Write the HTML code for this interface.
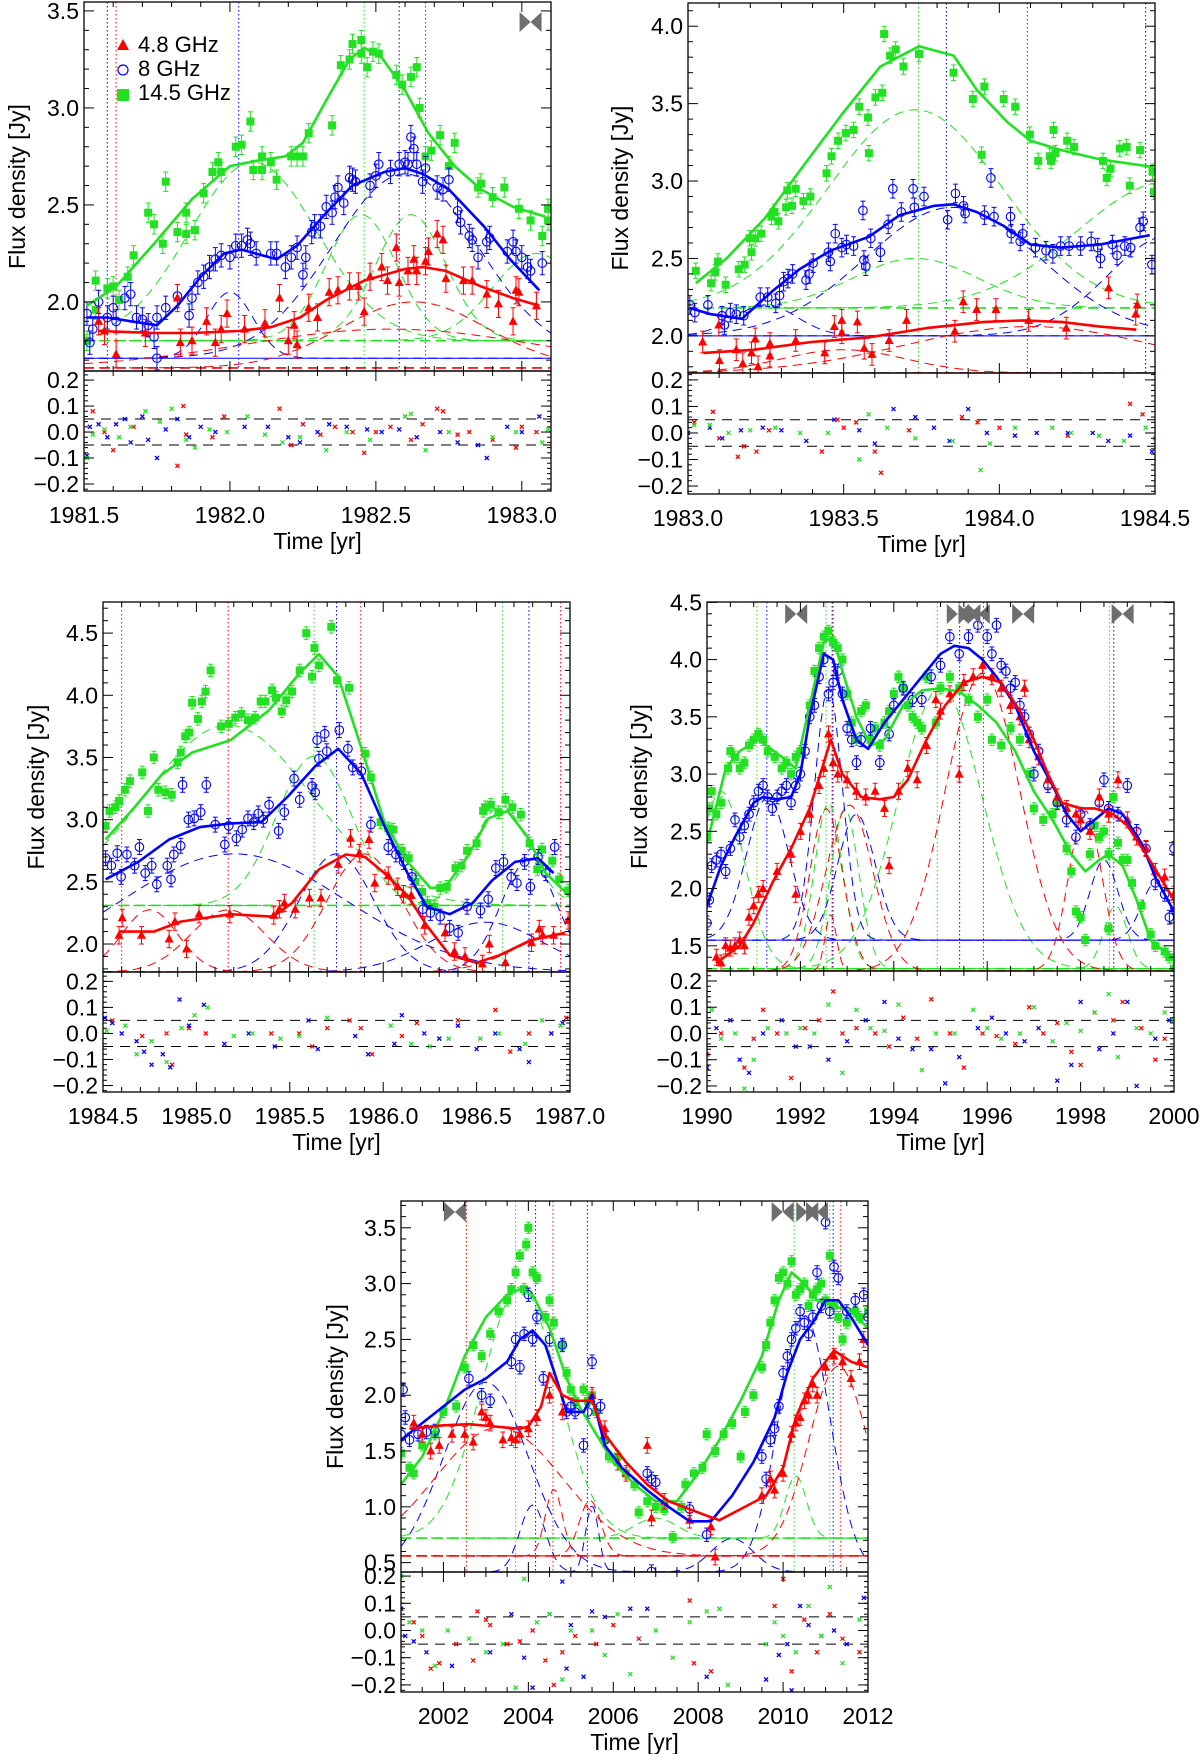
<!DOCTYPE html>
<html><head><meta charset="utf-8">
<style>
html,body{margin:0;padding:0;background:#fff;}
svg{display:block;font-family:"Liberation Sans",Arial,sans-serif;}
</style></head>
<body>
<svg id="fig" width="1200" height="1754" viewBox="0 0 1200 1754" xmlns="http://www.w3.org/2000/svg"></svg>
<script>
// ===== Panel 1 (1981.5-1983.1) =====
const P1_G=[[1981.51,1.80],[1981.54,2.11],[1981.54,1.96],[1981.58,2.07],[1981.60,2.08],[1981.62,2.01],[1981.65,2.13],[1981.67,2.24],[1981.72,2.46],[1981.74,2.40],[1981.77,2.30],[1981.78,2.62],[1981.82,2.36],[1981.85,2.35],[1981.85,2.46],[1981.88,2.37],[1981.91,2.56],[1981.94,2.67],[1981.96,2.72],[1981.97,2.67],[1982.02,2.80],[1982.04,2.81],[1982.07,2.93],[1982.08,2.68],[1982.11,2.68],[1982.11,2.75],[1982.14,2.72],[1982.16,2.63],[1982.21,2.75],[1982.23,2.75],[1982.25,2.75],[1982.27,2.87],[1982.35,2.91],[1982.38,3.22],[1982.41,3.25],[1982.42,3.33],[1982.45,3.28],[1982.45,3.35],[1982.47,3.21],[1982.49,3.29],[1982.51,3.28],[1982.57,3.17],[1982.59,3.12],[1982.62,3.16],[1982.64,3.21],[1982.65,3.00],[1982.67,2.75],[1982.69,2.78],[1982.72,2.86],[1982.75,2.70],[1982.77,2.82],[1982.85,2.59],[1982.86,2.61],[1982.90,2.54],[1982.94,2.59],[1982.99,2.48],[1983.03,2.42],[1983.07,2.34],[1983.09,2.42],[1983.09,2.48]];
const P1_B=[[1981.51,1.94],[1981.52,1.79],[1981.53,1.86],[1981.55,2.00],[1981.58,1.92],[1981.60,1.97],[1981.61,1.90],[1981.64,2.02],[1981.66,2.04],[1981.68,1.92],[1981.70,1.91],[1981.72,1.88],[1981.74,1.82],[1981.75,1.71],[1981.75,1.92],[1981.78,1.97],[1981.82,2.03],[1981.86,1.93],[1981.87,2.02],[1981.89,2.10],[1981.91,2.13],[1981.93,2.18],[1981.95,2.22],[1981.97,2.24],[1982.00,2.23],[1982.02,2.29],[1982.04,2.29],[1982.06,2.32],[1982.07,2.30],[1982.09,2.25],[1982.14,2.25],[1982.16,2.25],[1982.19,2.18],[1982.21,2.23],[1982.23,2.28],[1982.25,2.14],[1982.26,2.23],[1982.28,2.36],[1982.29,2.39],[1982.31,2.39],[1982.33,2.49],[1982.35,2.46],[1982.36,2.54],[1982.37,2.59],[1982.39,2.51],[1982.41,2.64],[1982.42,2.63],[1982.43,2.62],[1982.48,2.60],[1982.50,2.65],[1982.51,2.71],[1982.55,2.67],[1982.58,2.71],[1982.60,2.72],[1982.61,2.71],[1982.62,2.85],[1982.63,2.79],[1982.64,2.71],[1982.66,2.62],[1982.67,2.69],[1982.71,2.59],[1982.73,2.58],[1982.75,2.63],[1982.78,2.47],[1982.79,2.41],[1982.82,2.34],[1982.83,2.32],[1982.85,2.23],[1982.88,2.31],[1982.89,2.33],[1982.95,2.26],[1982.97,2.31],[1982.98,2.26],[1983.00,2.23],[1983.02,2.18],[1983.03,2.16],[1983.07,2.20]];
const P1_R=[[1981.55,1.90],[1981.57,1.85],[1981.61,1.73],[1981.71,1.84],[1981.82,2.02],[1981.83,1.79],[1981.87,1.80],[1981.92,1.90],[1981.95,1.79],[1981.97,1.86],[1981.99,1.94],[1982.05,1.86],[1982.12,1.89],[1982.17,2.02],[1982.20,1.80],[1982.22,1.88],[1982.23,1.78],[1982.27,1.97],[1982.30,1.92],[1982.34,2.05],[1982.37,2.06],[1982.41,2.08],[1982.44,2.08],[1982.46,1.95],[1982.48,2.13],[1982.52,2.18],[1982.54,2.11],[1982.57,2.28],[1982.58,2.10],[1982.61,2.16],[1982.63,2.22],[1982.64,2.16],[1982.67,2.21],[1982.68,2.26],[1982.71,2.35],[1982.73,2.32],[1982.74,2.12],[1982.80,2.11],[1982.83,2.11],[1982.88,2.04],[1982.92,1.99],[1982.97,1.90],[1982.98,2.06],[1982.99,2.05],[1983.05,1.98]];
const P1_FG=[[1981.51,1.98],[1981.61,2.08],[1981.74,2.30],[1981.87,2.53],[1982.00,2.70],[1982.10,2.73],[1982.19,2.75],[1982.25,2.82],[1982.33,3.04],[1982.41,3.25],[1982.46,3.31],[1982.52,3.26],[1982.60,3.09],[1982.68,2.87],[1982.77,2.70],[1982.86,2.58],[1982.97,2.49],[1983.08,2.44]];
const P1_FB=[[1981.51,1.92],[1981.58,1.92],[1981.66,1.90],[1981.75,1.88],[1981.82,1.98],[1981.90,2.13],[1981.98,2.25],[1982.04,2.27],[1982.16,2.22],[1982.23,2.29],[1982.33,2.46],[1982.42,2.60],[1982.53,2.67],[1982.60,2.69],[1982.66,2.66],[1982.75,2.58],[1982.87,2.39],[1982.96,2.22],[1983.06,2.06]];
const P1_FR=[[1981.55,1.85],[1981.74,1.84],[1981.87,1.84],[1982.03,1.85],[1982.14,1.87],[1982.24,1.92],[1982.33,2.01],[1982.46,2.11],[1982.60,2.17],[1982.66,2.18],[1982.74,2.16],[1982.86,2.08],[1982.97,2.02],[1983.06,1.98]];
const P1_RR=[[1981.53,.08],[1981.57,0],[1981.60,-.07],[1981.67,.02],[1981.82,-.13],[1981.84,.10],[1981.85,-.01],[1981.94,-.02],[1981.98,.06],[1982.17,.09],[1982.21,-.05],[1982.25,.03],[1982.31,-.01],[1982.36,.02],[1982.42,0],[1982.46,-.08],[1982.50,0],[1982.55,.02],[1982.60,.06],[1982.62,-.03],[1982.66,.03],[1982.71,.09],[1982.73,.08],[1982.78,-.01],[1982.82,0],[1982.90,-.03],[1982.98,-.06],[1983.00,.02],[1983.05,0]];
const P1_RB=[[1981.51,-.09],[1981.52,.02],[1981.55,.03],[1981.58,-.02],[1981.61,.03],[1981.64,.05],[1981.66,-.04],[1981.70,.06],[1981.72,-.03],[1981.75,-.10],[1981.78,.01],[1981.82,.05],[1981.86,-.02],[1981.90,.02],[1981.95,0],[1982.05,.02],[1982.13,.02],[1982.20,-.02],[1982.24,-.04],[1982.30,0],[1982.34,.03],[1982.40,.02],[1982.47,.01],[1982.52,0],[1982.58,.01],[1982.64,-.02],[1982.72,0],[1982.78,-.04],[1982.85,-.05],[1982.88,-.10],[1982.95,.02],[1983.00,0],[1983.06,.06]];
const P1_RG=[[1981.51,-.10],[1981.53,-.01],[1981.57,.01],[1981.62,-.02],[1981.66,.02],[1981.71,.08],[1981.76,.04],[1981.80,.09],[1981.85,-.03],[1981.88,-.06],[1981.93,.01],[1981.99,0],[1982.06,.06],[1982.12,-.01],[1982.18,-.04],[1982.24,-.02],[1982.33,-.07],[1982.40,0],[1982.48,-.03],[1982.60,.06],[1982.62,.07],[1982.67,-.07],[1982.75,0],[1982.90,-.02],[1982.98,0],[1983.07,-.04],[1983.09,.01]];
const P1_CG_T=[1982.08,1982.45,1982.62,1983.05], P1_CG_A=[0.92,0.65,0.65,0.45], P1_CG_W=[0.22,0.12,0.12,0.15], P1_BASE_G=1.80;
const P1_CB_T=[1982.0,1982.6], P1_CB_A=[0.34,0.95], P1_CB_W=[0.08,0.25], P1_BASE_B=1.71;
const P1_CR_T=[1982.63,1982.55], P1_CR_A=[0.34,0.2], P1_CR_W=[0.25,0.5], P1_BASE_R=1.66;
const P1_VL_T=[1981.58,1981.61,1982.03,1982.46,1982.58,1982.67], P1_VL_C=['b','r','b','g','b','r'];
const P1_BOW=[1983.03];

// ===== Panel 2 (1983.0-1984.5) =====
const P2_G=[[1983.025,2.42],[1983.074,2.34],[1983.087,2.41],[1983.096,2.48],[1983.121,2.33],[1983.163,2.43],[1983.182,2.46],[1983.198,2.63],[1983.204,2.54],[1983.216,2.63],[1983.235,2.66],[1983.268,2.77],[1983.278,2.80],[1983.290,2.74],[1983.315,2.83],[1983.319,2.94],[1983.334,2.84],[1983.346,2.95],[1983.371,2.87],[1983.393,2.90],[1983.445,3.05],[1983.461,3.16],[1983.482,3.26],[1983.507,3.31],[1983.532,3.33],[1983.550,3.48],[1983.581,3.18],[1983.578,3.41],[1983.602,3.54],[1983.624,3.57],[1983.630,3.95],[1983.649,3.81],[1983.667,3.85],[1983.692,3.74],[1983.742,3.82],[1983.853,3.70],[1983.915,3.53],[1983.943,3.17],[1983.952,3.61],[1984.014,3.53],[1984.051,3.48],[1984.098,3.30],[1984.125,3.13],[1984.162,3.16],[1984.166,3.13],[1984.174,3.33],[1984.180,3.18],[1984.218,3.26],[1984.240,3.22],[1984.333,3.13],[1984.345,3.02],[1984.357,3.08],[1984.387,3.21],[1984.409,3.22],[1984.419,2.97],[1984.452,3.20],[1984.492,3.06],[1984.496,2.93]];
const P2_B=[[1983.006,2.20],[1983.022,2.15],[1983.064,2.20],[1983.109,2.13],[1983.117,2.07],[1983.136,2.15],[1983.155,2.14],[1983.179,2.13],[1983.232,2.25],[1983.256,2.25],[1983.282,2.21],[1983.294,2.26],[1983.307,2.35],[1983.321,2.37],[1983.336,2.40],[1983.379,2.36],[1983.389,2.40],[1983.402,2.47],[1983.451,2.54],[1983.457,2.48],[1983.473,2.66],[1983.494,2.57],[1983.509,2.59],[1983.532,2.58],[1983.562,2.81],[1983.565,2.49],[1983.571,2.45],[1983.587,2.63],[1983.618,2.54],[1983.643,2.72],[1983.658,2.95],[1983.685,2.80],[1983.723,2.95],[1983.727,2.83],[1983.758,2.90],[1983.834,2.75],[1983.859,2.92],[1983.885,2.84],[1983.890,2.79],[1983.952,2.78],[1983.973,3.02],[1983.983,2.77],[1984.036,2.77],[1984.038,2.66],[1984.067,2.61],[1984.075,2.66],[1984.116,2.57],[1984.150,2.55],[1984.172,2.53],[1984.197,2.58],[1984.224,2.58],[1984.261,2.58],[1984.295,2.61],[1984.316,2.57],[1984.325,2.50],[1984.363,2.59],[1984.378,2.52],[1984.403,2.58],[1984.422,2.57],[1984.452,2.70],[1984.462,2.74],[1984.490,2.46]];
const P2_R=[[1983.047,1.96],[1983.099,2.07],[1983.101,1.84],[1983.155,1.91],[1983.176,1.82],[1983.204,1.89],[1983.216,1.98],[1983.225,1.80],[1983.263,1.95],[1983.263,1.87],[1983.346,1.97],[1983.439,1.89],[1983.470,2.06],[1983.494,2.10],[1983.494,2.02],[1983.544,2.09],[1983.566,1.92],[1983.591,1.88],[1983.646,1.97],[1983.702,2.10],[1983.857,2.03],[1983.884,2.22],[1983.927,2.17],[1983.989,2.17],[1984.094,2.10],[1984.215,2.05],[1984.351,2.31],[1984.438,2.14],[1984.443,2.20]];
const P2_FG=[[1983.025,2.34],[1983.124,2.50],[1983.247,2.76],[1983.371,3.10],[1983.494,3.43],[1983.618,3.74],[1983.742,3.87],[1983.853,3.81],[1983.927,3.59],[1984.026,3.38],[1984.100,3.26],[1984.199,3.20],[1984.323,3.14],[1984.496,3.09]];
const P2_FB=[[1983.006,2.18],[1983.074,2.14],[1983.173,2.11],[1983.272,2.29],[1983.358,2.43],[1983.457,2.55],[1983.581,2.64],[1983.680,2.78],[1983.791,2.84],[1983.853,2.85],[1983.927,2.80],[1984.014,2.71],[1984.100,2.59],[1984.199,2.57],[1984.323,2.59],[1984.483,2.65]];
const P2_FR=[[1983.049,1.89],[1983.210,1.91],[1983.396,1.96],[1983.581,1.99],[1983.766,2.05],[1983.952,2.09],[1984.075,2.10],[1984.199,2.09],[1984.323,2.06],[1984.440,2.04]];
const P2_RR=[[1983.02,.04],[1983.08,.08],[1983.10,-.02],[1983.16,-.09],[1983.18,-.05],[1983.22,-.07],[1983.26,.01],[1983.43,-.07],[1983.48,.05],[1983.50,.02],[1983.54,.04],[1983.60,-.07],[1983.62,-.15],[1983.71,.01],[1983.88,.06],[1983.93,.04],[1984.00,.02],[1984.22,-.01],[1984.42,.11],[1984.46,.07]];
const P2_RB=[[1983.00,0],[1983.07,.02],[1983.11,-.02],[1983.17,.01],[1983.24,.02],[1983.30,.01],[1983.38,-.03],[1983.47,.05],[1983.55,.01],[1983.60,-.04],[1983.66,.09],[1983.73,.06],[1983.79,.02],[1983.84,-.03],[1983.90,.09],[1983.96,0],[1984.05,-.01],[1984.12,0],[1984.22,0],[1984.30,0],[1984.35,-.03],[1984.42,-.01],[1984.49,-.07]];
const P2_RG=[[1983.02,.03],[1983.07,.03],[1983.13,0],[1983.20,.01],[1983.28,.02],[1983.36,0],[1983.45,0],[1983.55,-.10],[1983.58,.07],[1983.64,.02],[1983.73,-.02],[1983.85,-.03],[1983.94,-.14],[1983.97,-.04],[1984.05,.02],[1984.17,.02],[1984.23,0],[1984.32,-.01],[1984.40,-.03],[1984.47,.02],[1984.50,-.02]];
const P2_CG_T=[1983.73,1983.73,1984.55], P2_CG_A=[1.28,0.32,0.82], P2_CG_W=[0.28,0.2,0.3], P2_BASE_G=2.18;
const P2_CB_T=[1983.25,1983.85,1984.55], P2_CB_A=[0.2,0.83,0.65], P2_CB_W=[0.1,0.28,0.2], P2_BASE_B=2.0;
const P2_CR_T=[1984.1,1983.5], P2_CR_A=[0.3,0.15], P2_CR_W=[0.4,0.2], P2_BASE_R=1.76;
const P2_VL_T=[1983.74,1983.83,1984.09,1984.47], P2_VL_C=['g','b','r','b'];
const P2_BOW=[];

// ===== Panel 3 (1984.5-1987.0) =====
const P3_G=[[1984.514,2.95],[1984.535,3.07],[1984.566,3.10],[1984.586,3.15],[1984.617,3.24],[1984.644,3.31],[1984.710,3.38],[1984.741,3.07],[1984.772,3.50],[1984.796,3.24],[1984.833,3.22],[1984.868,3.20],[1984.899,3.46],[1984.916,3.54],[1984.940,3.67],[1984.961,3.70],[1984.977,3.94],[1985.008,3.81],[1985.029,3.95],[1985.049,4.03],[1985.076,4.20],[1985.132,3.75],[1985.173,3.77],[1985.208,3.82],[1985.241,3.85],[1985.276,3.80],[1985.313,3.82],[1985.344,3.95],[1985.368,3.95],[1985.405,4.04],[1985.426,3.98],[1985.457,3.87],[1985.481,3.96],[1985.512,4.03],[1985.553,4.20],[1985.588,4.50],[1985.619,4.15],[1985.632,4.38],[1985.656,4.24],[1985.722,4.55],[1985.753,4.12],[1985.817,4.06],[1985.903,3.53],[1985.934,3.34],[1985.986,2.98],[1986.027,2.93],[1986.053,2.92],[1986.099,2.75],[1986.136,2.69],[1986.171,2.50],[1986.208,2.42],[1986.237,2.33],[1986.274,2.30],[1986.305,2.45],[1986.340,2.46],[1986.387,2.61],[1986.418,2.63],[1986.449,2.75],[1986.500,2.81],[1986.535,3.07],[1986.547,3.10],[1986.576,3.12],[1986.617,3.06],[1986.654,3.16],[1986.691,3.10],[1986.737,3.04],[1986.784,2.81],[1986.825,2.60],[1986.850,2.76],[1986.905,2.67],[1986.942,2.52],[1986.990,2.43]];
const P3_B=[[1984.514,2.69],[1984.545,2.63],[1984.576,2.73],[1984.597,2.54],[1984.628,2.72],[1984.669,2.63],[1984.695,2.78],[1984.726,2.57],[1984.761,2.63],[1984.788,2.48],[1984.844,2.63],[1984.864,2.52],[1984.879,2.72],[1984.916,2.79],[1984.926,3.28],[1984.957,3.00],[1984.988,3.01],[1985.023,3.06],[1985.053,3.28],[1985.101,2.96],[1985.152,2.80],[1985.173,2.95],[1985.214,2.85],[1985.245,2.92],[1985.276,3.01],[1985.307,2.98],[1985.331,3.05],[1985.358,3.00],[1985.389,3.12],[1985.440,2.91],[1985.471,3.06],[1985.523,3.33],[1985.553,3.16],[1985.619,3.27],[1985.636,3.22],[1985.646,3.64],[1985.656,3.49],[1985.687,3.69],[1985.698,3.55],[1985.765,3.72],[1985.811,3.57],[1985.837,3.42],[1985.883,3.39],[1985.934,2.96],[1986.027,2.78],[1986.068,2.72],[1986.109,2.66],[1986.154,2.54],[1986.212,2.28],[1986.253,2.25],[1986.305,2.22],[1986.356,2.13],[1986.401,2.09],[1986.449,2.30],[1986.521,2.27],[1986.562,2.36],[1986.603,2.61],[1986.644,2.66],[1986.685,2.54],[1986.716,2.49],[1986.757,2.66],[1986.788,2.46],[1986.829,2.70],[1986.870,2.57],[1986.918,2.78]];
const P3_R=[[1984.586,2.07],[1984.603,2.21],[1984.706,2.07],[1984.854,2.04],[1984.885,2.18],[1984.947,1.96],[1985.014,2.24],[1985.179,2.24],[1985.414,2.23],[1985.444,2.28],[1985.471,2.33],[1985.529,2.28],[1985.605,2.37],[1985.667,2.37],[1985.759,2.64],[1985.825,2.85],[1985.872,2.73],[1985.924,2.84],[1985.955,2.49],[1986.027,2.55],[1986.078,2.46],[1986.109,2.40],[1986.150,2.39],[1986.222,2.15],[1986.331,2.09],[1986.381,1.94],[1986.438,1.90],[1986.531,1.84],[1986.568,2.00],[1986.654,1.85],[1986.794,2.01],[1986.835,2.12],[1986.854,2.07],[1986.912,2.07],[1986.990,2.19]];
const P3_FG=[[1984.514,2.84],[1984.669,3.10],[1984.813,3.36],[1984.977,3.54],[1985.183,3.64],[1985.389,3.88],[1985.553,4.18],[1985.656,4.33],[1985.759,4.15],[1985.883,3.58],[1986.006,2.98],[1986.130,2.66],[1986.253,2.45],[1986.335,2.46],[1986.459,2.72],[1986.562,3.01],[1986.665,3.07],[1986.768,2.87],[1986.870,2.57],[1986.994,2.39]];
const P3_FB=[[1984.514,2.52],[1984.689,2.66],[1984.854,2.84],[1985.019,2.94],[1985.183,2.97],[1985.348,2.98],[1985.492,3.19],[1985.636,3.43],[1985.759,3.57],[1985.883,3.37],[1986.006,2.95],[1986.130,2.57],[1986.233,2.30],[1986.356,2.24],[1986.479,2.33],[1986.582,2.51],[1986.706,2.66],[1986.829,2.69],[1986.912,2.57]];
const P3_FR=[[1984.586,2.10],[1984.772,2.10],[1984.916,2.18],[1985.183,2.24],[1985.409,2.22],[1985.512,2.33],[1985.656,2.60],[1985.800,2.72],[1985.903,2.70],[1986.006,2.57],[1986.130,2.39],[1986.233,2.15],[1986.356,1.91],[1986.500,1.85],[1986.623,1.91],[1986.788,2.03],[1986.973,2.09]];
const P3_RR=[[1984.55,.05],[1984.71,-.01],[1984.84,0],[1984.87,-.12],[1984.96,.02],[1985.05,0],[1985.40,0],[1985.55,0],[1985.62,-.05],[1985.70,.02],[1985.82,.05],[1985.88,.02],[1985.94,-.08],[1986.10,-.01],[1986.18,.04],[1986.40,.05],[1986.60,.09],[1986.68,-.07],[1986.78,0],[1986.90,0],[1986.98,.06]];
const P3_RB=[[1984.51,.06],[1984.55,.04],[1984.60,0],[1984.68,-.03],[1984.72,-.07],[1984.76,-.12],[1984.82,-.08],[1984.86,-.13],[1984.91,.13],[1984.96,.03],[1985.04,.11],[1985.15,-.04],[1985.28,0],[1985.42,-.05],[1985.60,.05],[1985.65,-.06],[1985.85,-.01],[1985.92,-.08],[1986.06,-.04],[1986.10,.07],[1986.22,0],[1986.30,-.02],[1986.40,.03],[1986.50,-.06],[1986.60,0],[1986.73,-.06],[1986.78,-.11],[1986.90,0],[1986.96,.04]];
const P3_RG=[[1984.52,.01],[1984.62,.03],[1984.68,-.08],[1984.76,-.03],[1984.84,-.11],[1984.92,.02],[1984.99,.07],[1985.06,.10],[1985.20,-.01],[1985.30,0],[1985.45,-.02],[1985.55,-.01],[1985.70,.06],[1986.04,.03],[1986.15,-.04],[1986.25,-.05],[1986.35,-.02],[1986.52,-.02],[1986.62,0],[1986.76,-.04],[1986.85,.05],[1986.95,.03]];
const P3_CG_T=[1985.17,1985.63,1986.63], P3_CG_A=[1.45,1.2,0.8], P3_CG_W=[0.45,0.2,0.15], P3_BASE_G=2.31;
const P3_CB_T=[1985.2,1985.75,1986.55,1986.78], P3_CB_A=[0.95,0.95,0.4,0.9], P3_CB_W=[0.6,0.2,0.3,0.15], P3_BASE_B=1.775;
const P3_CR_T=[1984.75,1985.17,1985.9,1986.95], P3_CR_A=[0.5,0.5,0.95,0.3], P3_CR_W=[0.15,0.2,0.2,0.25], P3_BASE_R=1.775;
const P3_VL_T=[1984.60,1985.17,1985.63,1985.75,1985.88,1986.64,1986.78,1986.95], P3_VL_C=['r','r','g','b','r','g','b','r'];
const P3_BOW=[];

// ===== Panel 4 (1990-2000) =====
const P4_G=[[1990.0,2.45],[1990.05,2.7],[1990.1,2.85],[1990.2,2.65],[1990.3,2.75],[1990.45,3.05],[1990.5,3.2],[1990.6,3.15],[1990.7,3.05],[1990.8,3.1],[1990.9,3.25],[1991.0,3.3],[1991.1,3.35],[1991.2,3.3],[1991.3,3.2],[1991.45,3.15],[1991.6,3.05],[1991.7,3.1],[1991.8,3.0],[1991.9,3.15],[1992.0,3.2],[1992.2,3.6],[1992.3,3.9],[1992.4,4.1],[1992.5,4.2],[1992.6,4.25],[1992.7,4.15],[1992.8,4.1],[1992.9,4.0],[1993.0,3.7],[1993.1,3.45],[1993.2,3.3],[1993.3,3.55],[1993.4,3.6],[1993.5,3.3],[1993.6,3.4],[1993.7,3.25],[1993.8,3.45],[1993.9,3.55],[1994.0,3.7],[1994.1,3.85],[1994.2,3.75],[1994.3,3.6],[1994.4,3.5],[1994.5,3.45],[1994.6,3.4],[1994.7,3.85],[1994.9,3.45],[1995.0,3.75],[1995.2,3.85],[1995.4,3.75],[1995.6,3.65],[1995.8,3.5],[1996.0,3.65],[1996.1,3.3],[1996.3,3.25],[1996.5,3.4],[1996.7,3.3],[1996.9,3.0],[1997.0,2.7],[1997.2,2.6],[1997.4,2.65],[1997.5,2.75],[1997.7,2.35],[1997.8,2.15],[1997.9,1.8],[1998.0,1.75],[1998.1,1.55],[1998.2,2.3],[1998.3,2.55],[1998.4,2.45],[1998.5,2.5],[1998.6,2.3],[1998.6,1.65],[1998.7,2.8],[1998.8,2.4],[1998.9,2.25],[1999.0,2.25],[1999.1,2.05],[1999.3,1.85],[1999.5,1.6],[1999.6,1.5],[1999.8,1.45],[1999.9,1.4],[2000.0,1.3]];
const P4_B=[[1990.0,1.7],[1990.05,1.9],[1990.1,2.2],[1990.2,2.25],[1990.3,2.3],[1990.4,2.15],[1990.5,2.35],[1990.6,2.6],[1990.7,2.45],[1990.8,2.55],[1990.9,2.65],[1991.0,2.75],[1991.1,2.85],[1991.2,2.9],[1991.3,2.8],[1991.4,2.7],[1991.5,2.8],[1991.6,2.85],[1991.7,2.9],[1991.8,2.75],[1991.9,2.9],[1992.0,3.0],[1992.1,3.2],[1992.2,3.5],[1992.3,3.6],[1992.4,3.85],[1992.5,4.0],[1992.6,3.7],[1992.7,3.8],[1992.8,3.9],[1992.9,3.7],[1993.0,3.4],[1993.1,3.3],[1993.2,3.1],[1993.3,3.3],[1993.5,3.4],[1993.7,3.1],[1993.9,3.35],[1994.0,3.6],[1994.2,3.75],[1994.4,3.65],[1994.6,3.65],[1994.8,3.85],[1995.0,3.95],[1995.2,4.2],[1995.4,4.05],[1995.6,4.2],[1995.8,4.3],[1996.0,4.2],[1996.1,4.05],[1996.2,4.3],[1996.3,3.95],[1996.4,3.9],[1996.5,3.75],[1996.6,3.8],[1996.7,3.6],[1996.8,3.5],[1996.9,3.35],[1997.0,3.0],[1997.1,3.2],[1997.3,2.9],[1997.5,2.75],[1997.7,2.6],[1997.9,2.45],[1998.0,2.65],[1998.2,2.55],[1998.4,2.75],[1998.5,2.95],[1998.6,2.7],[1998.8,2.65],[1999.0,2.9],[1999.2,2.5],[1999.4,2.35],[1999.6,2.05],[1999.8,1.95],[1999.9,1.75],[2000.0,2.35]];
const P4_R=[[1990.2,1.4],[1990.3,1.35],[1990.4,1.5],[1990.5,1.48],[1990.6,1.5],[1990.7,1.55],[1990.8,1.5],[1990.9,1.75],[1991.0,1.85],[1991.1,1.95],[1991.2,2.0],[1991.5,2.15],[1991.8,2.3],[1991.9,1.95],[1992.0,2.5],[1992.2,2.65],[1992.4,2.9],[1992.5,3.05],[1992.6,3.35],[1992.7,3.1],[1992.8,3.0],[1993.0,2.95],[1993.2,2.85],[1993.4,2.8],[1993.6,2.85],[1993.8,2.7],[1993.9,2.2],[1994.1,2.85],[1994.3,3.05],[1994.5,2.95],[1994.7,3.25],[1994.9,3.65],[1995.0,3.55],[1995.2,3.7],[1995.4,3.0],[1995.5,3.8],[1995.7,3.85],[1995.9,3.95],[1996.1,3.85],[1996.3,3.75],[1996.5,3.6],[1996.7,3.5],[1996.8,3.75],[1996.9,3.3],[1997.1,3.15],[1997.3,2.95],[1997.5,2.8],[1997.7,2.7],[1997.9,2.65],[1998.0,2.6],[1998.2,2.5],[1998.4,2.8],[1998.6,2.65],[1998.8,2.95],[1999.0,2.6],[1999.2,2.45],[1999.4,2.35],[1999.6,2.15],[1999.8,2.1],[2000.0,1.95]];
const P4_FG=[[1990.0,2.4],[1990.4,3.05],[1990.7,3.2],[1991.1,3.3],[1991.6,3.15],[1991.9,3.05],[1992.2,3.6],[1992.5,4.15],[1992.7,4.2],[1992.9,3.9],[1993.2,3.5],[1993.5,3.25],[1993.8,3.3],[1994.2,3.6],[1994.6,3.73],[1995.0,3.75],[1995.4,3.72],[1995.8,3.6],[1996.2,3.45],[1996.6,3.2],[1997.0,2.85],[1997.4,2.6],[1997.8,2.3],[1998.1,2.15],[1998.4,2.25],[1998.6,2.3],[1998.9,2.2],[1999.2,1.9],[1999.5,1.55],[1999.8,1.45],[2000.0,1.4]];
const P4_FB=[[1990.0,1.85],[1990.3,2.2],[1990.6,2.45],[1991.0,2.75],[1991.2,2.8],[1991.5,2.78],[1991.8,2.8],[1992.0,3.0],[1992.2,3.5],[1992.5,4.05],[1992.7,4.0],[1992.9,3.65],[1993.2,3.3],[1993.45,3.22],[1993.8,3.45],[1994.2,3.65],[1994.6,3.85],[1995.0,4.05],[1995.3,4.12],[1995.6,4.1],[1995.9,4.0],[1996.2,3.85],[1996.6,3.6],[1997.0,3.2],[1997.4,2.9],[1997.7,2.65],[1998.0,2.5],[1998.3,2.6],[1998.6,2.7],[1998.9,2.65],[1999.3,2.4],[1999.6,2.1],[2000.0,1.8]];
const P4_FR=[[1990.2,1.35],[1990.7,1.5],[1991.0,1.7],[1991.4,2.05],[1991.8,2.35],[1992.2,2.7],[1992.5,3.1],[1992.65,3.3],[1992.9,3.0],[1993.3,2.8],[1993.7,2.78],[1994.0,2.8],[1994.3,2.95],[1994.7,3.3],[1995.1,3.6],[1995.5,3.8],[1995.9,3.85],[1996.3,3.8],[1996.7,3.55],[1997.0,3.3],[1997.3,3.0],[1997.6,2.75],[1998.0,2.7],[1998.3,2.7],[1998.7,2.65],[1999.0,2.55],[1999.4,2.3],[1999.7,2.1],[2000.0,1.9]];
const P4_RR=[[1990.0,-.08],[1990.3,0],[1990.5,.05],[1990.8,-.13],[1991.0,-.02],[1991.2,.09],[1991.5,0],[1991.8,-.17],[1992.1,.02],[1992.4,.05],[1992.7,.16],[1992.9,0],[1993.2,.02],[1993.6,0],[1993.9,-.05],[1994.2,.06],[1994.5,-.02],[1994.8,.13],[1995.2,0],[1995.5,-.13],[1995.9,0],[1996.2,-.01],[1996.6,-.04],[1996.9,.1],[1997.2,0],[1997.5,.04],[1997.8,-.07],[1998.0,-.12],[1998.3,.08],[1998.7,.05],[1998.9,.12],[1999.3,.02],[1999.6,-.1],[1999.8,-.02],[2000.0,-.23]];
const P4_RB=[[1990.0,-.13],[1990.2,.02],[1990.5,.05],[1990.7,-.1],[1990.9,-.15],[1991.2,0],[1991.6,.05],[1991.9,-.05],[1992.2,-.05],[1992.6,-.1],[1993.0,-.03],[1993.4,.05],[1993.8,.12],[1994.1,-.02],[1994.4,-.06],[1994.8,-.06],[1995.1,-.19],[1995.4,-.09],[1995.8,.02],[1996.1,.06],[1996.4,0],[1996.8,-.03],[1997.1,.02],[1997.5,-.18],[1997.8,-.12],[1998.0,.12],[1998.4,-.06],[1998.7,0],[1999.0,.12],[1999.2,-.2],[1999.6,-.02],[1999.9,.05]];
const P4_RG=[[1990.1,.09],[1990.3,-.02],[1990.6,0],[1990.8,-.21],[1991.0,-.1],[1991.3,.02],[1991.7,0],[1992.0,.02],[1992.3,0],[1992.6,.11],[1992.9,-.15],[1993.2,.09],[1993.5,.02],[1993.8,.01],[1994.1,.11],[1994.6,-.14],[1994.9,0],[1995.3,0],[1995.7,.09],[1996.0,.02],[1996.3,-.02],[1996.7,0],[1997.0,.1],[1997.4,-.03],[1997.7,.04],[1998.0,.01],[1998.3,.08],[1998.6,.15],[1998.8,-.09],[1999.2,.02],[1999.5,0],[1999.8,.08],[2000.0,.05]];
const P4_CG_T=[1990.3,1992.6,1992.95,1995.0,1998.75], P4_CG_A=[1.55,1.45,1.4,2.45,0.55], P4_CG_W=[0.5,0.3,0.3,0.9,0.25], P4_BASE_G=1.30;
const P4_CB_T=[1991.3,1992.6,1993.2,1998.5,1999.6], P4_CB_A=[1.25,2.2,1.1,0.7,0.5], P4_CB_W=[0.45,0.3,0.4,0.3,0.3], P4_BASE_B=1.55;
const P4_CR_T=[1992.65,1992.55,1993.05,1995.9,1998.1], P4_CR_A=[0.5,1.42,1.45,2.6,1.4], P4_CR_W=[0.12,0.35,0.5,0.8,0.35], P4_BASE_R=1.28;
const P4_VL_T=[1991.07,1991.28,1992.55,1992.68,1992.70,1994.93,1995.41,1995.92,1998.62,1998.71], P4_VL_C=['g','b','g','b','r','g','b','r','g','b'];
const P4_BOW=[1991.91,1995.37,1995.62,1995.82,1996.77,1998.9];

// ===== Panel 5 (2001-2012) =====
const P5_G=[[2001.0,1.48],[2001.2,1.35],[2001.3,1.3],[2001.5,1.55],[2001.8,1.65],[2002.0,1.85],[2002.3,1.9],[2002.5,2.25],[2002.7,2.45],[2002.9,2.35],[2003.1,2.55],[2003.3,2.75],[2003.5,2.85],[2003.6,2.95],[2003.7,3.1],[2003.8,3.25],[2003.9,2.95],[2003.95,3.35],[2004.0,3.5],[2004.1,3.1],[2004.2,3.05],[2004.4,2.7],[2004.5,2.85],[2004.6,2.65],[2004.8,2.45],[2004.9,2.2],[2005.0,2.05],[2005.1,1.95],[2005.3,2.05],[2005.4,1.95],[2005.5,2.0],[2005.6,1.85],[2005.8,1.6],[2005.9,1.45],[2006.1,1.45],[2006.3,1.3],[2006.5,1.2],[2006.6,0.95],[2006.8,1.05],[2007.0,1.0],[2007.2,0.98],[2007.4,0.73],[2007.6,1.0],[2007.7,1.2],[2007.9,1.3],[2008.1,1.35],[2008.2,1.65],[2008.4,1.5],[2008.6,1.65],[2008.8,1.75],[2009.0,1.45],[2009.1,1.85],[2009.3,2.0],[2009.5,2.25],[2009.6,2.45],[2009.7,2.65],[2009.8,2.85],[2009.9,3.05],[2010.0,3.1],[2010.1,3.0],[2010.2,3.2],[2010.3,2.9],[2010.4,2.95],[2010.5,3.0],[2010.6,2.8],[2010.7,2.9],[2010.8,2.95],[2010.9,3.0],[2011.0,2.85],[2011.1,3.25],[2011.2,2.8],[2011.3,2.7],[2011.4,2.5],[2011.5,2.65],[2011.7,2.75],[2011.8,2.7],[2012.0,2.75]];
const P5_B=[[2001.0,1.65],[2001.05,2.05],[2001.1,1.8],[2001.2,1.6],[2001.4,1.65],[2001.6,1.67],[2001.8,1.68],[2002.6,2.15],[2002.9,2.0],[2003.1,1.95],[2003.6,2.3],[2003.7,2.5],[2003.8,2.25],[2003.9,2.55],[2004.0,2.9],[2004.1,2.5],[2004.2,2.7],[2004.35,2.15],[2004.5,2.5],[2004.8,2.45],[2004.9,1.85],[2005.0,1.9],[2005.1,1.85],[2005.3,1.55],[2005.4,1.85],[2005.5,2.3],[2005.7,1.9],[2005.8,1.6],[2006.8,1.3],[2006.9,1.25],[2006.9,0.42],[2007.0,1.22],[2007.8,0.98],[2008.2,0.75],[2009.5,1.45],[2009.6,1.25],[2009.7,1.6],[2009.8,1.7],[2009.9,1.9],[2010.0,2.2],[2010.1,2.35],[2010.2,2.5],[2010.3,2.6],[2010.4,2.75],[2010.5,2.65],[2010.6,2.55],[2010.7,2.7],[2010.8,3.1],[2010.9,2.8],[2011.0,3.55],[2011.1,2.75],[2011.2,3.15],[2011.3,3.05],[2011.5,2.75],[2011.7,2.85],[2011.9,2.9],[2012.0,2.7]];
const P5_R=[[2001.3,1.75],[2001.5,1.65],[2001.7,1.5],[2001.9,1.55],[2002.2,1.65],[2002.5,1.65],[2002.7,1.58],[2002.9,1.85],[2003.0,1.8],[2003.1,1.75],[2003.4,1.6],[2003.6,1.62],[2003.7,1.6],[2003.8,1.65],[2004.0,1.7],[2004.2,1.8],[2004.5,2.0],[2004.8,1.85],[2005.5,2.0],[2005.8,1.7],[2006.1,1.4],[2006.3,1.3],[2006.8,1.55],[2006.9,0.9],[2007.2,1.05],[2007.8,0.88],[2008.3,0.82],[2008.4,0.55],[2009.5,1.1],[2009.7,1.25],[2009.8,1.15],[2010.0,1.3],[2010.2,1.65],[2010.3,1.75],[2010.4,1.8],[2010.5,1.95],[2010.6,2.0],[2010.7,2.1],[2010.8,2.0],[2011.0,2.25],[2011.2,2.35],[2011.4,2.3],[2011.6,2.15],[2011.8,2.3],[2011.9,2.5]];
const P5_FG=[[2001.0,1.2],[2001.5,1.45],[2002.0,1.85],[2002.5,2.35],[2003.0,2.7],[2003.5,2.9],[2003.8,2.95],[2004.1,2.9],[2004.5,2.6],[2004.9,2.15],[2005.2,1.9],[2005.6,1.65],[2006.0,1.4],[2006.5,1.2],[2007.0,1.05],[2007.5,1.05],[2008.0,1.3],[2008.5,1.6],[2009.0,1.95],[2009.5,2.35],[2009.9,2.85],[2010.2,3.1],[2010.5,3.0],[2010.8,2.85],[2011.2,2.8],[2011.6,2.75],[2012.0,2.6]];
const P5_FB=[[2001.0,1.6],[2001.5,1.75],[2002.0,1.9],[2002.5,2.05],[2003.0,2.15],[2003.5,2.3],[2003.8,2.5],[2004.1,2.58],[2004.4,2.45],[2004.7,2.1],[2004.9,1.85],[2005.3,1.85],[2005.5,2.0],[2005.8,1.55],[2006.2,1.35],[2006.8,1.15],[2007.3,1.0],[2007.8,0.87],[2008.3,0.87],[2008.8,1.1],[2009.3,1.4],[2009.8,1.8],[2010.1,2.2],[2010.4,2.5],[2010.7,2.65],[2011.0,2.85],[2011.3,2.85],[2011.6,2.7],[2012.0,2.45]];
const P5_FR=[[2001.2,1.7],[2002.0,1.73],[2002.6,1.74],[2003.2,1.72],[2003.8,1.7],[2004.0,1.72],[2004.3,1.9],[2004.5,2.2],[2004.8,2.0],[2005.1,1.95],[2005.5,1.95],[2005.8,1.65],[2006.3,1.4],[2006.8,1.2],[2007.3,1.05],[2008.2,0.92],[2008.5,0.88],[2009.0,0.98],[2009.6,1.1],[2010.0,1.35],[2010.3,1.8],[2010.7,2.15],[2011.2,2.4],[2011.6,2.3],[2012.0,2.25]];
const P5_RR=[[2001.3,.03],[2001.5,-.02],[2001.7,-.14],[2001.9,-.12],[2002.3,-.05],[2002.7,-.11],[2002.8,.07],[2003.0,.04],[2003.1,.02],[2003.5,-.05],[2003.8,-.04],[2004.1,0],[2004.4,-.11],[2004.6,-.2],[2004.8,-.08],[2005.1,-.02],[2005.6,-.05],[2006.0,.02],[2006.6,-.03],[2007.8,.11],[2007.9,-.12],[2008.3,-.15],[2009.8,.09],[2010.0,.19],[2010.2,-.15],[2010.5,.04],[2010.8,-.08],[2011.1,.06],[2011.4,-.03],[2011.8,-.08]];
const P5_RB=[[2001.0,.08],[2001.1,-.02],[2001.3,-.04],[2001.6,-.08],[2002.2,-.13],[2003.1,-.08],[2003.6,.06],[2003.9,-.1],[2004.1,-.21],[2004.5,.06],[2004.8,.18],[2004.9,-.14],[2005.0,.02],[2005.3,-.17],[2005.5,.07],[2005.8,.05],[2006.4,.08],[2006.8,.08],[2008.2,-.17],[2009.6,-.18],[2009.9,-.09],[2010.1,-.05],[2010.2,-.22],[2010.4,.09],[2010.6,.02],[2010.9,-.02],[2011.2,0],[2011.5,-.05],[2011.9,.12]];
const P5_RG=[[2001.0,.2],[2001.2,.03],[2001.5,0],[2001.8,-.13],[2002.1,0],[2002.6,-.03],[2003.0,-.08],[2003.4,-.05],[2003.7,-.21],[2003.9,.19],[2004.2,.03],[2004.5,.06],[2004.8,-.18],[2005.0,0],[2005.5,0],[2005.8,-.09],[2006.1,.06],[2006.4,-.16],[2007.0,0],[2007.4,-.1],[2007.8,.03],[2008.2,.07],[2008.5,.08],[2008.7,-.2],[2009.6,-.05],[2009.8,.03],[2010.0,-.02],[2010.3,-.08],[2010.6,.09],[2010.9,-.02],[2011.1,.16],[2011.4,-.12],[2011.8,.04]];
const P5_CG_T=[2003.8,2007.0,2010.3], P5_CG_A=[2.25,0.18,0.56], P5_CG_W=[0.9,0.5,0.25], P5_BASE_G=0.72;
const P5_CB_T=[2003.0,2004.1,2005.5,2008.8,2010.5], P5_CB_A=[1.7,0.6,0.6,0.3,2.3], P5_CB_W=[1.0,0.3,0.15,0.5,0.6], P5_BASE_B=0.416;
const P5_CR_T=[2003.3,2004.6,2005.45,2011.3], P5_CR_A=[1.15,0.6,0.5,1.7], P5_CR_W=[1.5,0.2,0.25,0.7], P5_BASE_R=0.56;
const P5_VL_T=[2002.54,2003.70,2004.17,2004.58,2005.39,2010.26,2011.10,2011.18,2011.36], P5_VL_C=['r','g','b','r','b','g','g','b','r'];
const P5_BOW=[2002.27,2009.99,2010.57,2010.80];

// ===== layout (not data) =====
const COL={r:'#ff0000',b:'#0000ff',g:'#22e022'};
const LAYOUT=[
 {x0:84,x1:551,yT:2,yM:371,yB:491,t0:1981.5,t1:1983.1,v0:1.644,v1:3.546,r0:-0.227,r1:0.235,yt:[2.0,3.5,0.5],xt:[1981.5,1983.0,0.5],xm:0.1,ym:0.1,xd:1,bowY:22,titleX:17},
 {x0:688,x1:1155,yT:3,yM:373,yB:494,t0:1983.0,t1:1984.5,v0:1.76,v1:4.15,r0:-0.23,r1:0.226,yt:[2.0,4.0,0.5],xt:[1983.0,1984.5,0.5],xm:0.1,ym:0.1,xd:1,bowY:22,titleX:620},
 {x0:103,x1:570,yT:602,yM:972,yB:1092,t0:1984.5,t1:1987.0,v0:1.775,v1:4.75,r0:-0.225,r1:0.236,yt:[2.0,4.5,0.5],xt:[1984.5,1987.0,0.5],xm:0.1,ym:0.1,xd:1,bowY:622,titleX:36},
 {x0:707,x1:1174,yT:602,yM:971,yB:1092,t0:1990,t1:2000,v0:1.28,v1:4.503,r0:-0.223,r1:0.238,yt:[1.5,4.5,0.5],xt:[1990,2000,2],xm:0.5,ym:0.1,xd:0,bowY:614,titleX:639},
 {x0:401,x1:868,yT:1201,yM:1572,yB:1692,t0:2001,t1:2012,v0:0.416,v1:3.74,r0:-0.226,r1:0.215,yt:[0.5,3.5,0.5],xt:[2002,2012,2],xm:0.5,ym:0.1,xd:0,bowY:1212,titleX:335}
];
const DATA=[
 {G:P1_G,B:P1_B,R:P1_R,FG:P1_FG,FB:P1_FB,FR:P1_FR,RR:P1_RR,RB:P1_RB,RG:P1_RG,CG:[P1_CG_T,P1_CG_A,P1_CG_W,P1_BASE_G],CB:[P1_CB_T,P1_CB_A,P1_CB_W,P1_BASE_B],CR:[P1_CR_T,P1_CR_A,P1_CR_W,P1_BASE_R],VT:P1_VL_T,VC:P1_VL_C,BOW:P1_BOW},
 {G:P2_G,B:P2_B,R:P2_R,FG:P2_FG,FB:P2_FB,FR:P2_FR,RR:P2_RR,RB:P2_RB,RG:P2_RG,CG:[P2_CG_T,P2_CG_A,P2_CG_W,P2_BASE_G],CB:[P2_CB_T,P2_CB_A,P2_CB_W,P2_BASE_B],CR:[P2_CR_T,P2_CR_A,P2_CR_W,P2_BASE_R],VT:P2_VL_T,VC:P2_VL_C,BOW:P2_BOW},
 {G:P3_G,B:P3_B,R:P3_R,FG:P3_FG,FB:P3_FB,FR:P3_FR,RR:P3_RR,RB:P3_RB,RG:P3_RG,CG:[P3_CG_T,P3_CG_A,P3_CG_W,P3_BASE_G],CB:[P3_CB_T,P3_CB_A,P3_CB_W,P3_BASE_B],CR:[P3_CR_T,P3_CR_A,P3_CR_W,P3_BASE_R],VT:P3_VL_T,VC:P3_VL_C,BOW:P3_BOW},
 {G:P4_G,B:P4_B,R:P4_R,FG:P4_FG,FB:P4_FB,FR:P4_FR,RR:P4_RR,RB:P4_RB,RG:P4_RG,CG:[P4_CG_T,P4_CG_A,P4_CG_W,P4_BASE_G],CB:[P4_CB_T,P4_CB_A,P4_CB_W,P4_BASE_B],CR:[P4_CR_T,P4_CR_A,P4_CR_W,P4_BASE_R],VT:P4_VL_T,VC:P4_VL_C,BOW:P4_BOW},
 {G:P5_G,B:P5_B,R:P5_R,FG:P5_FG,FB:P5_FB,FR:P5_FR,RR:P5_RR,RB:P5_RB,RG:P5_RG,CG:[P5_CG_T,P5_CG_A,P5_CG_W,P5_BASE_G],CB:[P5_CB_T,P5_CB_A,P5_CB_W,P5_BASE_B],CR:[P5_CR_T,P5_CR_A,P5_CR_W,P5_BASE_R],VT:P5_VL_T,VC:P5_VL_C,BOW:P5_BOW}
];
const ERR={r:0.07,b:0.06,g:0.05};

const NS='http://www.w3.org/2000/svg';
const svg=document.getElementById('fig');
function mk(tag,attrs,parent){const e=document.createElementNS(NS,tag);for(const k in attrs)e.setAttribute(k,attrs[k]);(parent||svg).appendChild(e);return e;}
function fmt(v,d){let s=v.toFixed(d);if(v<-1e-9)s='\u2212'+s.slice(1);return s;}

LAYOUT.forEach((L,pi)=>{
  const D=DATA[pi];
  const g=mk('g',{});
  
  
  const X=t=>L.x0+(t-L.t0)/(L.t1-L.t0)*(L.x1-L.x0);
  const Y=v=>L.yM-(v-L.v0)/(L.v1-L.v0)*(L.yM-L.yT);
  const RY=v=>L.yB-(v-L.r0)/(L.r1-L.r0)*(L.yB-L.yM);
  const cid='clip'+pi, rid='rclip'+pi;
  const defs=mk('defs',{},g);
  const cp=mk('clipPath',{id:cid},defs);mk('rect',{x:L.x0,y:L.yT,width:L.x1-L.x0,height:L.yM-L.yT},cp);
  const cp2=mk('clipPath',{id:rid},defs);mk('rect',{x:L.x0,y:L.yM,width:L.x1-L.x0,height:L.yB-L.yM},cp2);
  const main=mk('g',{'clip-path':'url(#'+cid+')'},g);
  
  
  D.VT.forEach((t,i)=>{
    const l=mk('line',{x1:X(t),x2:X(t),y1:L.yT,y2:L.yM,stroke:COL[D.VC[i]],'stroke-width':1,'stroke-dasharray':'1.5,2.5'},main);
    
    
  });
  [['CG','g'],['CB','b'],['CR','r']].forEach(([key,c])=>{
    const [T,A,W,base]=D[key];
    const bl=mk('line',{x1:L.x0,x2:L.x1,y1:Y(base),y2:Y(base),stroke:COL[c],'stroke-width':c==='b'?1:1.6,'stroke-dasharray':c==='b'?'none':'10,6'},main);
    
    
    T.forEach((tc,i)=>{
      let d='';
      for(let k=0;k<=160;k++){const t=L.t0+(L.t1-L.t0)*k/160;const v=base+A[i]*Math.exp(-(t-tc)*(t-tc)/(2*W[i]*W[i]));d+=(k?'L':'M')+X(t).toFixed(1)+','+Y(v).toFixed(1);}
      const p=mk('path',{d:d,fill:'none',stroke:COL[c],'stroke-width':1,'stroke-dasharray':'9,6'},main);
      
      
    });
  });
  [['G','g'],['B','b'],['R','r']].forEach(([key,c])=>{
    D[key].forEach(([t,v])=>{
      const x=X(t),y=Y(v),e=(Y(v-ERR[c])-Y(v+ERR[c]))/2;
      mk('line',{x1:x,x2:x,y1:y-e,y2:y+e,stroke:COL[c],'stroke-width':1},main);
      mk('line',{x1:x-2.5,x2:x+2.5,y1:y-e,y2:y-e,stroke:COL[c],'stroke-width':1},main);
      mk('line',{x1:x-2.5,x2:x+2.5,y1:y+e,y2:y+e,stroke:COL[c],'stroke-width':1},main);
      let m;
      if(c==='g') m=mk('rect',{x:x-4,y:y-4,width:8,height:8,fill:COL.g},main);
      else if(c==='b') m=mk('circle',{cx:x,cy:y,r:4.3,fill:'none',stroke:COL.b,'stroke-width':1.1},main);
      else m=mk('polygon',{points:`${x},${y-5} ${x-4.5},${y+3.5} ${x+4.5},${y+3.5}`,fill:COL.r},main);
      
      
    });
  });
  [['FG','g'],['FB','b'],['FR','r']].forEach(([key,c])=>{
    const d=D[key].map((p,i)=>(i?'L':'M')+X(p[0]).toFixed(1)+','+Y(p[1]).toFixed(1)).join('');
    const p=mk('path',{d:d,fill:'none',stroke:COL[c],'stroke-width':2.6,'stroke-linejoin':'round'},main);
    
    
  });
  D.BOW.forEach(t=>{
    const x=X(t),y=L.bowY;
    const b=mk('path',{d:`M${x-11},${y-10}L${x},${y}L${x-11},${y+10}ZM${x+11},${y-10}L${x},${y}L${x+11},${y+10}Z`,fill:'#6e6e6e'},g);
    
    
  });
  const res=mk('g',{'clip-path':'url(#'+rid+')'},g);
  
  
  [0.05,-0.05].forEach(v=>{mk('line',{x1:L.x0,x2:L.x1,y1:RY(v),y2:RY(v),stroke:'#000','stroke-width':1,'stroke-dasharray':'10,7'},res);});
  [['RR','r'],['RB','b'],['RG','g']].forEach(([key,c])=>{
    D[key].forEach(([t,v])=>{
      const x=X(t),y=RY(v);
      const m=mk('path',{d:`M${x-2},${y-2}L${x+2},${y+2}M${x-2},${y+2}L${x+2},${y-2}`,stroke:COL[c],'stroke-width':1.3},res);
      
      
    });
  });
  mk('rect',{x:L.x0,y:L.yT,width:L.x1-L.x0,height:L.yM-L.yT,fill:'none',stroke:'#000','stroke-width':1.3},g);
  mk('rect',{x:L.x0,y:L.yM,width:L.x1-L.x0,height:L.yB-L.yM,fill:'none',stroke:'#000','stroke-width':1.3},g);
  const tk=mk('g',{stroke:'#000','stroke-width':1},g);
  for(let t=Math.ceil(L.t0/L.xm-1e-6)*L.xm;t<=L.t1+1e-6;t+=L.xm){
    const x=X(t);const major=Math.abs((t-L.xt[0])/L.xt[2]-Math.round((t-L.xt[0])/L.xt[2]))<1e-4;
    const len=major?10:5;
    [L.yT,L.yM,L.yB].forEach((yy,j)=>{
      if(j!==0) mk('line',{x1:x,x2:x,y1:yy,y2:yy-len},tk);
      if(j!==2) mk('line',{x1:x,x2:x,y1:yy,y2:yy+len},tk);
    });
  }
  for(let v=Math.ceil(L.v0/L.ym)*L.ym;v<=L.v1+1e-6;v+=L.ym){
    const y=Y(v);if(y<L.yT||y>L.yM)continue;
    const major=Math.abs(v/L.yt[2]-Math.round(v/L.yt[2]))<1e-4;const len=major?10:5;
    mk('line',{x1:L.x0,x2:L.x0+len,y1:y,y2:y},tk);mk('line',{x1:L.x1,x2:L.x1-len,y1:y,y2:y},tk);
  }
  for(let v=-0.22;v<=0.23;v+=0.02){
    const y=RY(v);if(y<L.yM||y>L.yB)continue;
    mk('line',{x1:L.x0,x2:L.x0+4,y1:y,y2:y},tk);mk('line',{x1:L.x1,x2:L.x1-4,y1:y,y2:y},tk);
  }
  [-0.2,-0.1,0,0.1,0.2].forEach(v=>{const y=RY(v);mk('line',{x1:L.x0,x2:L.x0+10,y1:y,y2:y},tk);mk('line',{x1:L.x1,x2:L.x1-10,y1:y,y2:y},tk);
    const tx=mk('text',{x:L.x0-5,y:y+8,'text-anchor':'end','font-size':23},g);tx.textContent=fmt(v,1);
    
    
  });
  for(let v=L.yt[0];v<=L.yt[1]+1e-6;v+=L.yt[2]){
    const tx=mk('text',{x:L.x0-5,y:Y(v)+8,'text-anchor':'end','font-size':23},g);tx.textContent=v.toFixed(1);
    
    
  }
  for(let t=L.xt[0];t<=L.xt[1]+1e-6;t+=L.xt[2]){
    const tx=mk('text',{x:X(t),y:L.yB+32,'text-anchor':'middle','font-size':23},g);tx.textContent=t.toFixed(L.xd);
    
    
  }
  const xt=mk('text',{x:(L.x0+L.x1)/2,y:Math.min(L.yB+58,1750),'text-anchor':'middle','font-size':23},g);xt.textContent='Time [yr]';
  
  
  const cy=(L.yT+L.yM)/2;
  const yt=mk('text',{x:L.titleX,y:cy,'text-anchor':'middle','font-size':23,transform:`rotate(-90 ${L.titleX} ${cy}) translate(0 8)`},g);yt.textContent='Flux density [Jy]';
  
  
});

const leg=mk('g',{});


mk('polygon',{points:'123,39 117,50 129,50',fill:COL.r},leg);
mk('circle',{cx:123,cy:70,r:5,fill:'none',stroke:COL.b,'stroke-width':1.2},leg);
mk('rect',{x:117,y:89,width:12,height:12,fill:COL.g},leg);
[['4.8 GHz',52],['8 GHz',76],['14.5 GHz',100]].forEach(([s,y])=>{
  const t=mk('text',{x:138,y:y,'font-size':22},leg);t.textContent=s;
  
  
});
</script>
</body></html>
